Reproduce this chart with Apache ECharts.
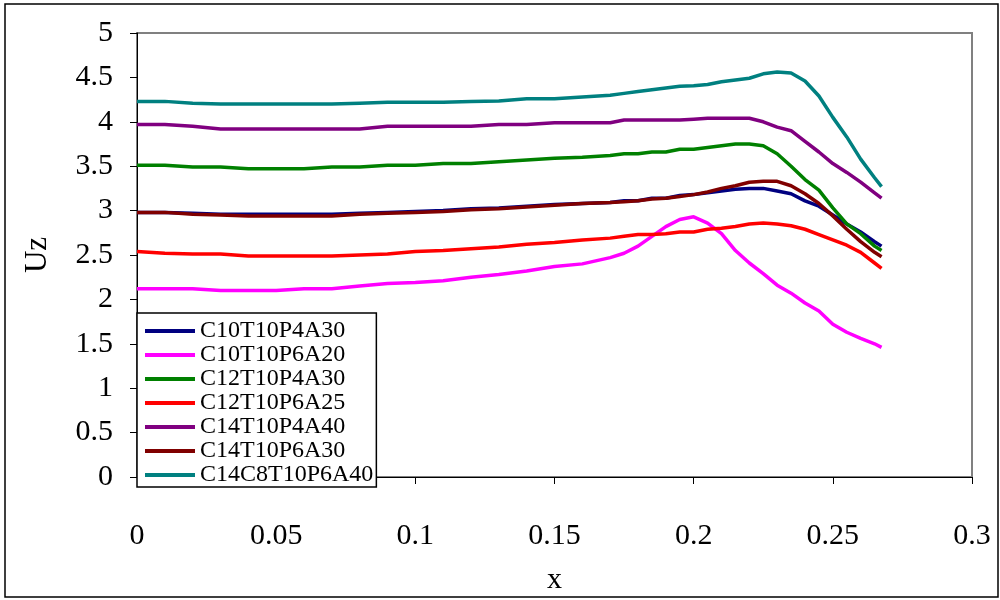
<!DOCTYPE html>
<html>
<head>
<meta charset="utf-8">
<title>Uz vs x</title>
<script src="https://cdn.jsdelivr.net/npm/echarts@6/dist/echarts.min.js"></script>
<style>
  html, body { margin: 0; padding: 0; background: #fff; }
  #chart { width: 1000px; height: 600px; }
</style>
</head>
<body>
<div id="chart"></div>
<script>
// Shared abscissa for every profile
const xs = [0, 0.01, 0.02, 0.03, 0.04, 0.05, 0.06, 0.07, 0.08, 0.09, 0.10, 0.11, 0.12, 0.13, 0.14, 0.15, 0.16, 0.17,
  0.175, 0.18, 0.185, 0.19, 0.195, 0.20, 0.205, 0.21, 0.215, 0.22, 0.225, 0.23, 0.235, 0.24, 0.245, 0.25, 0.255, 0.26, 0.265, 0.2675];

const seriesNames = ['C10T10P4A30', 'C10T10P6A20', 'C12T10P4A30', 'C12T10P6A25', 'C14T10P4A40', 'C14T10P6A30', 'C14C8T10P6A40'];

const uzC10T10P4A30 = [2.98, 2.98, 2.97, 2.96, 2.96, 2.96, 2.96, 2.96, 2.97, 2.98, 2.99, 3.00, 3.02, 3.03, 3.05, 3.07, 3.08, 3.09,
  3.11, 3.11, 3.14, 3.14, 3.17, 3.18, 3.20, 3.22, 3.24, 3.25, 3.25, 3.22, 3.19, 3.11, 3.05, 2.95, 2.85, 2.76, 2.65, 2.60];

const uzC10T10P6A20 = [2.12, 2.12, 2.12, 2.10, 2.10, 2.10, 2.12, 2.12, 2.15, 2.18, 2.19, 2.21, 2.25, 2.28, 2.32, 2.37, 2.40, 2.47,
  2.52, 2.60, 2.71, 2.82, 2.90, 2.93, 2.86, 2.74, 2.55, 2.41, 2.29, 2.16, 2.07, 1.96, 1.87, 1.72, 1.63, 1.56, 1.50, 1.46];

const uzC12T10P4A30 = [3.51, 3.51, 3.49, 3.49, 3.47, 3.47, 3.47, 3.49, 3.49, 3.51, 3.51, 3.53, 3.53, 3.55, 3.57, 3.59, 3.60, 3.62,
  3.64, 3.64, 3.66, 3.66, 3.69, 3.69, 3.71, 3.73, 3.75, 3.75, 3.73, 3.64, 3.50, 3.35, 3.23, 3.03, 2.85, 2.74, 2.60, 2.55];

const uzC12T10P6A25 = [2.54, 2.52, 2.51, 2.51, 2.49, 2.49, 2.49, 2.49, 2.50, 2.51, 2.54, 2.55, 2.57, 2.59, 2.62, 2.64, 2.67, 2.69,
  2.71, 2.73, 2.73, 2.74, 2.76, 2.76, 2.79, 2.80, 2.82, 2.85, 2.86, 2.85, 2.83, 2.79, 2.73, 2.67, 2.61, 2.53, 2.41, 2.35];

const uzC14T10P4A40 = [3.97, 3.97, 3.95, 3.92, 3.92, 3.92, 3.92, 3.92, 3.92, 3.95, 3.95, 3.95, 3.95, 3.97, 3.97, 3.99, 3.99, 3.99,
  4.02, 4.02, 4.02, 4.02, 4.02, 4.03, 4.04, 4.04, 4.04, 4.04, 4.00, 3.94, 3.90, 3.78, 3.66, 3.53, 3.43, 3.32, 3.20, 3.14];

const uzC14T10P6A30 = [2.98, 2.98, 2.96, 2.95, 2.94, 2.94, 2.94, 2.94, 2.96, 2.97, 2.98, 2.99, 3.01, 3.02, 3.04, 3.06, 3.08, 3.09,
  3.10, 3.11, 3.13, 3.14, 3.16, 3.18, 3.21, 3.25, 3.28, 3.32, 3.33, 3.33, 3.28, 3.19, 3.08, 2.94, 2.79, 2.65, 2.53, 2.48];

const uzC14C8T10P6A40 = [4.23, 4.23, 4.21, 4.20, 4.20, 4.20, 4.20, 4.20, 4.21, 4.22, 4.22, 4.22, 4.23, 4.235, 4.26, 4.26, 4.28, 4.30,
  4.32, 4.34, 4.36, 4.38, 4.40, 4.405, 4.42, 4.45, 4.47, 4.49, 4.54, 4.56, 4.55, 4.46, 4.29, 4.05, 3.83, 3.58, 3.37, 3.27];

const seriesValues = [uzC10T10P4A30, uzC10T10P6A20, uzC12T10P4A30, uzC12T10P6A25, uzC14T10P4A40, uzC14T10P6A30, uzC14C8T10P6A40];
const seriesColors = ['#000080', '#FF00FF', '#008000', '#FF0000', '#800080', '#800000', '#008080'];

const serif = '"Liberation Serif", "Times New Roman", serif';

const chart = echarts.init(document.getElementById('chart'), null, { renderer: 'canvas' });

const option = {
  animation: false,
  backgroundColor: '#ffffff',
  graphic: [{
    type: 'rect',
    shape: { x: 5, y: 4, width: 993, height: 593 },
    style: { fill: 'none', stroke: '#000', lineWidth: 1.5 },
    silent: true,
    z: 0
  }],
  grid: {
    left: 137, right: 28, top: 33, bottom: 113,
    show: true,
    borderColor: '#808080',
    borderWidth: 2,
    backgroundColor: '#ffffff'
  },
  xAxis: {
    type: 'value',
    min: 0, max: 0.3, interval: 0.05,
    name: 'x',
    nameLocation: 'middle',
    nameGap: 88,
    nameTextStyle: { fontFamily: serif, fontSize: 30, color: '#000' },
    axisLine: { show: true, onZero: false, lineStyle: { color: '#000', width: 1 } },
    axisTick: { show: true, inside: false, length: 7, lineStyle: { color: '#000' } },
    axisLabel: {
      margin: 44,
      fontFamily: serif, fontSize: 30, color: '#000',
      formatter: v => String(+v.toFixed(2))
    },
    splitLine: { show: false }
  },
  yAxis: {
    type: 'value',
    min: 0, max: 5, interval: 0.5,
    name: 'Uz',
    nameLocation: 'middle',
    nameGap: 84,
    nameTextStyle: { fontFamily: serif, fontSize: 31, color: '#000' },
    axisLine: { show: true, lineStyle: { color: '#000', width: 1 } },
    axisTick: { show: true, inside: false, length: 7, lineStyle: { color: '#000' } },
    axisLabel: {
      margin: 24,
      fontFamily: serif, fontSize: 30, color: '#000',
      formatter: v => String(+v.toFixed(1))
    },
    splitLine: { show: false }
  },
  legend: {
    orient: 'vertical',
    left: 137, top: 313,
    padding: [6, 3, 0, 8],
    itemGap: 0,
    itemWidth: 50,
    itemHeight: 4,
    icon: 'rect',
    backgroundColor: '#ffffff',
    borderColor: '#000',
    borderWidth: 1.5,
    borderRadius: 0,
    textStyle: { fontFamily: serif, fontSize: 24, lineHeight: 24, color: '#000' },
    data: seriesNames
  },
  series: seriesNames.map((name, k) => ({
    name,
    type: 'line',
    data: xs.map((x, i) => [x, seriesValues[k][i]]),
    showSymbol: false,
    symbol: 'none',
    smooth: false,
    color: seriesColors[k],
    lineStyle: { color: seriesColors[k], width: 3.5 },
    z: 2 + k
  }))
};

chart.setOption(option);
</script>
</body>
</html>
